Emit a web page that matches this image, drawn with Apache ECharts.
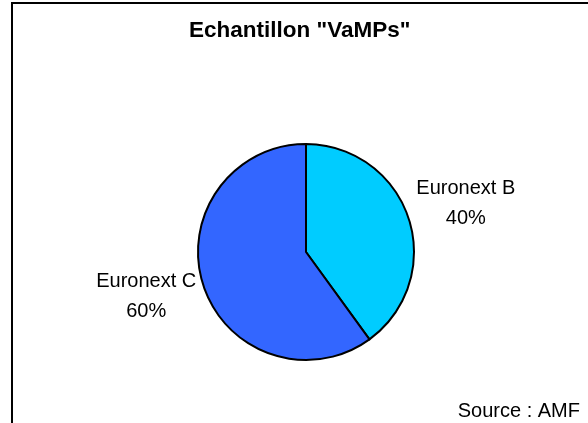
<!DOCTYPE html>
<html>
<head>
<meta charset="utf-8">
<script src="https://cdn.jsdelivr.net/npm/echarts@6/dist/echarts.min.js"></script>
<style>
html,body{margin:0;padding:0;background:#fff;}
#chart{width:588px;height:423px;}
</style>
</head>
<body>
<div id="chart"></div>
<script>
var titleText = 'Echantillon "VaMPs"';
var sourceText = 'Source : AMF';
var categories = ['Euronext B', 'Euronext C'];
var values = [40, 60];
var colors = ['#00CCFF', '#3366FF'];

var CX = 306, CY = 252, R = 108, LABEL_DIST = 168, LABEL_VSCALE = 0.9, LABEL_DY = -2;
var total = values.reduce(function (a, b) { return a + b; }, 0);
function midAngle(i) {
  var before = 0;
  for (var k = 0; k < i; k++) before += values[k];
  return (before + values[i] / 2) / total * Math.PI * 2;
}

var chart = echarts.init(document.getElementById('chart'), null, {renderer: 'canvas'});
var font = '"Liberation Sans", Arial, sans-serif';
chart.setOption({
  animation: false,
  backgroundColor: '#ffffff',
  title: {
    text: titleText,
    left: 189,
    top: 19,
    padding: 0,
    textStyle: {fontFamily: font, fontSize: 22.5, fontWeight: 'bold', color: '#000'}
  },
  graphic: [
    {type: 'line', shape: {x1: 12, y1: 2, x2: 12, y2: 423}, style: {stroke: '#000', lineWidth: 2}},
    {type: 'line', shape: {x1: 11, y1: 3, x2: 588, y2: 3}, style: {stroke: '#000', lineWidth: 2}},
    {type: 'text', x: 580, y: 411, style: {text: sourceText, font: '20px ' + font, fill: '#000', textAlign: 'right', textVerticalAlign: 'middle'}}
  ],
  series: [{
    type: 'pie',
    center: [CX, CY],
    radius: [0, R],
    startAngle: 90,
    clockwise: true,
    data: categories.map(function (c, i) {
      return {name: c, value: values[i], itemStyle: {color: colors[i]}};
    }),
    itemStyle: {borderColor: '#000', borderWidth: 2},
    emphasis: {disabled: true},
    label: {
      show: true,
      position: 'outside',
      formatter: function (p) { return p.name + '\n' + Math.round(p.percent) + '%'; },
      fontFamily: font,
      fontSize: 20,
      lineHeight: 30,
      color: '#000',
      align: 'center'
    },
    labelLine: {show: false},
    labelLayout: function (p) {
      var a = midAngle(p.dataIndex);
      return {
        x: CX + LABEL_DIST * Math.sin(a),
        y: CY + LABEL_DY - LABEL_DIST * LABEL_VSCALE * Math.cos(a),
        align: 'center',
        verticalAlign: 'middle'
      };
    }
  }]
});
</script>
</body>
</html>
